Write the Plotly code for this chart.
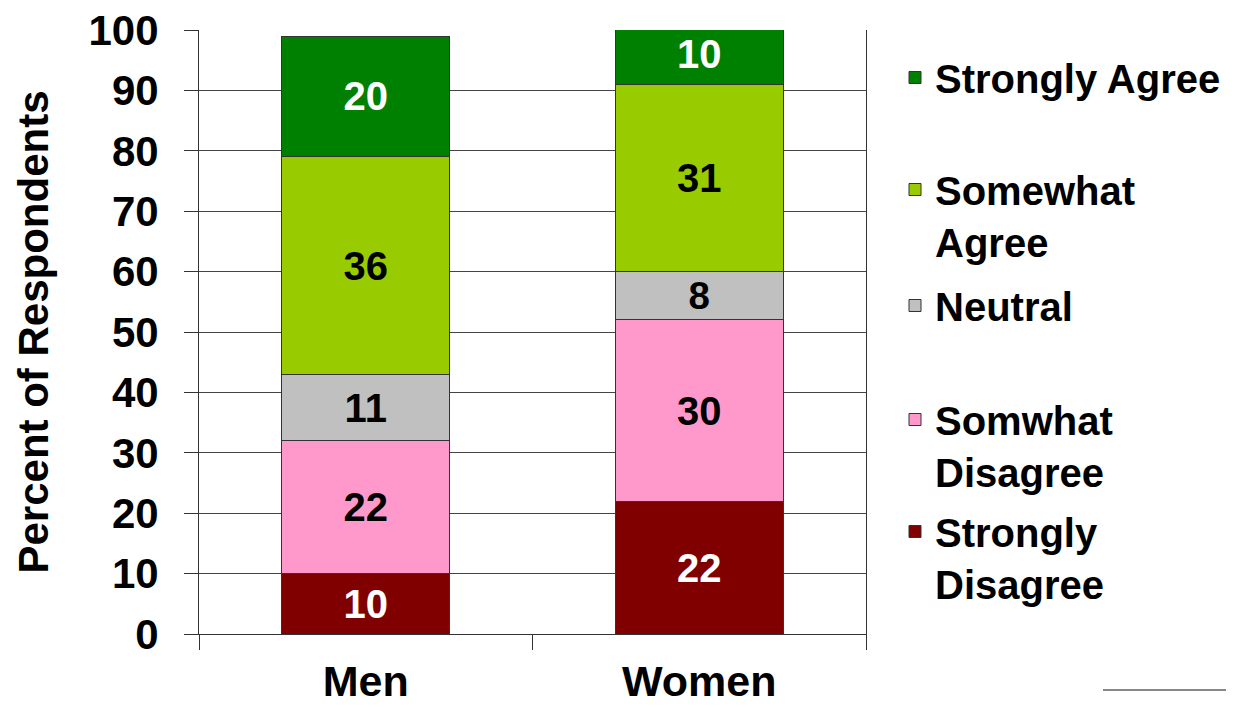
import plotly.graph_objects as go

categories = ["Men", "Women"]
series_names = ["Strongly Disagree", "Somwhat Disagree", "Neutral", "Somewhat Agree", "Strongly Agree"]
legend_labels = ["Strongly<br>Disagree", "Somwhat<br>Disagree", "Neutral", "Somewhat<br>Agree", "Strongly Agree"]
strongly_disagree = [10, 22]
somewhat_disagree = [22, 30]
neutral = [11, 8]
somewhat_agree = [36, 31]
strongly_agree = [20, 10]
y_ticks = [0, 10, 20, 30, 40, 50, 60, 70, 80, 90, 100]

values = [strongly_disagree, somewhat_disagree, neutral, somewhat_agree, strongly_agree]
colors = ["#800000", "#ff99cc", "#c0c0c0", "#99cc00", "#008000"]
text_colors = ["white", "black", "black", "black", "white"]
legend_ids = ["legend5", "legend4", "legend3", "legend2", "legend"]
legend_tops_px = [499, 387, 273, 157, 45]

FONT = "Liberation Sans, Arial, Helvetica, sans-serif"
OFF = 8  # page body margin in the browser
WIN_W, WIN_H = 1234, 707
W, H = WIN_W - OFF, WIN_H - OFF
# target plot-area edges in window pixels
L, R, T, B = 199, 866, 30, 634

fig = go.Figure()
for name, lab, vals, col, tcol, lid in zip(series_names, legend_labels, values, colors, text_colors, legend_ids):
    fig.add_trace(go.Bar(
        x=categories, y=vals, name=lab,
        marker=dict(color=col, line=dict(color="#333333", width=1)),
        text=vals, texttemplate="%{text}", textposition="inside",
        insidetextanchor="middle", textangle=0,
        textfont=dict(family=FONT, size=40, color=tcol, weight="bold"),
        legend=lid, hoverinfo="skip",
    ))

layout_legends = {}
for lid, top in zip(legend_ids, legend_tops_px):
    layout_legends[lid] = dict(
        x=(895 - L) / (R - L), xanchor="left",
        y=(B - top) / (B - T), yanchor="top",
        valign="top", bgcolor="rgba(0,0,0,0)",
        font=dict(family=FONT, size=40, color="black", weight="bold"),
    )

fig.update_layout(
    width=W, height=H,
    margin=dict(l=L - OFF, r=W - (R - OFF), t=T - OFF, b=H - (B - OFF), pad=0, autoexpand=False),
    barmode="stack", bargap=0.495,
    plot_bgcolor="white", paper_bgcolor="white",
    showlegend=True,
    font=dict(family=FONT, color="black"),
    xaxis=dict(
        automargin=False,
        showline=True, linecolor="#333333", linewidth=1,
        ticks="outside", tickson="boundaries", ticklen=15, tickcolor="#333333",
        tickfont=dict(family=FONT, size=43, color="black", weight="bold"),
        ticklabelstandoff=9, ticklabeloverflow="allow",
        showgrid=False,
    ),
    yaxis=dict(
        automargin=False,
        range=[0, 100], tickvals=y_ticks,
        showline=True, linecolor="#333333", linewidth=1, mirror=True,
        ticks="outside", ticklen=14, tickcolor="#333333",
        tickfont=dict(family=FONT, size=42, color="black", weight="bold"),
        ticklabelstandoff=17, ticklabeloverflow="allow",
        showgrid=True, gridcolor="#444444", gridwidth=1,
        zeroline=False,
        title=dict(text="Percent of Respondents", standoff=26,
                   font=dict(family=FONT, size=42, color="black", weight="bold")),
    ),
    shapes=[dict(type="line", xref="paper", yref="paper",
                 x0=(1103 - L) / (R - L), x1=(1234 - L) / (R - L),
                 y0=(B - 690) / (B - T), y1=(B - 690) / (B - T),
                 line=dict(color="#888888", width=2))],
    **layout_legends,
)

fig.write_html("out.html")
